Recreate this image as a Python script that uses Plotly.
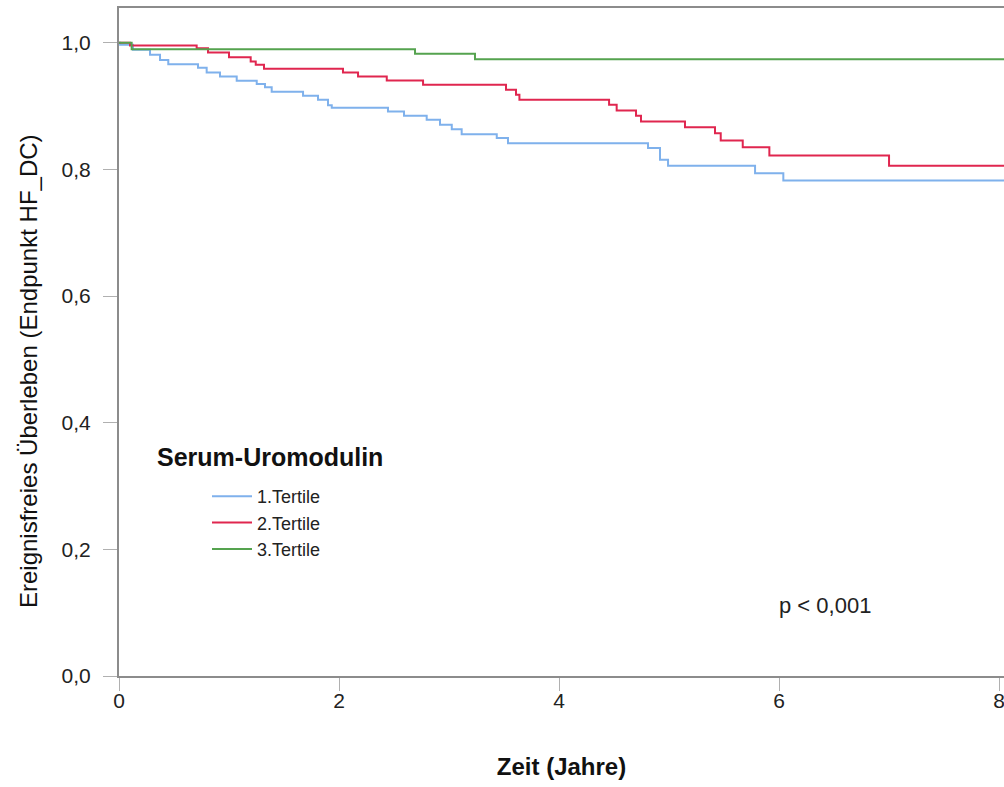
import plotly.graph_objects as go

# ---- data ----
t1_time = [0, 0.01, 0.127, 0.282, 0.373, 0.448, 0.718, 0.797, 0.918, 1.07, 1.252, 1.327, 1.388,
           1.673, 1.809, 1.90, 1.934, 2.445, 2.591, 2.797, 2.918, 3.025, 3.115, 3.434, 3.536,
           4.809, 4.918, 4.991, 5.782, 6.039, 8.045]
t1_surv = [1.0, 0.9968, 0.9889, 0.981, 0.973, 0.966, 0.9605, 0.953, 0.947, 0.940, 0.935, 0.930, 0.9226,
           0.9163, 0.910, 0.9016, 0.8973, 0.8915, 0.8847, 0.8784, 0.8705, 0.8637, 0.8558, 0.8495, 0.8415,
           0.8337, 0.8152, 0.8057, 0.7942, 0.7825, 0.7825]

t2_time = [0, 0.10, 0.706, 0.809, 1.0, 1.197, 1.243, 1.318, 2.036, 2.173, 2.434, 2.764, 3.518, 3.609,
           3.64, 4.455, 4.524, 4.70, 4.745, 5.145, 5.418, 5.470, 5.67, 5.912, 7.0, 8.045]
t2_surv = [1.0, 0.9957, 0.9916, 0.9847, 0.9774, 0.9705, 0.9652, 0.9589, 0.9531, 0.9468, 0.9405, 0.9336,
           0.9258, 0.9179, 0.910, 0.9021, 0.8931, 0.8847, 0.8757, 0.8668, 0.8573, 0.8457, 0.8352, 0.822,
           0.8057, 0.8057]

t3_time = [0, 0.115, 2.691, 3.236, 8.045]
t3_surv = [1.0, 0.990, 0.9826, 0.9742, 0.9742]

series_names = ["1.Tertile", "2.Tertile", "3.Tertile"]
series_colors = ["#7fb1ec", "#e0264f", "#55a34f"]

x_tickvals = [0, 2, 4, 6, 8]
y_tickvals = [0.0, 0.2, 0.4, 0.6, 0.8, 1.0]

FONT = "Liberation Sans, Arial, sans-serif"

fig = go.Figure()
for tt, ss, nm, col in zip([t1_time, t2_time, t3_time], [t1_surv, t2_surv, t3_surv],
                           series_names, series_colors):
    fig.add_trace(go.Scatter(x=tt, y=ss, mode="lines", name=nm,
                             line=dict(shape="hv", color=col, width=2)))

fig.update_layout(
    width=1004, height=787,
    margin=dict(l=119, r=0, t=8, b=111),
    paper_bgcolor="white", plot_bgcolor="white",
    separators=",.",
    font=dict(family=FONT, color="#222222"),
    showlegend=True,
    legend=dict(x=(207 - 119) / 885, y=(676 - 478) / 668, xanchor="left", yanchor="top",
                font=dict(size=18, family=FONT, color="#222222"),
                bgcolor="rgba(0,0,0,0)", borderwidth=0, itemwidth=40),
    xaxis=dict(range=[0, 8.045], tickvals=x_tickvals, tickformat="d",
               showgrid=False, zeroline=False,
               showline=True, linecolor="#8c8c8c", linewidth=2, mirror=True,
               ticks="outside", ticklen=13, tickcolor="#b0b0b0", tickwidth=1,
               ticklabeloverflow="allow", ticklabelstandoff=-8,
               tickfont=dict(size=21, family=FONT, color="#222222"),
               title=dict(text="<b>Zeit (Jahre)</b>", font=dict(size=24, family=FONT, color="#111111"),
                          standoff=47)),
    yaxis=dict(range=[0, 1.055], tickvals=y_tickvals, tickformat=".1f",
               showgrid=False, zeroline=False,
               showline=True, linecolor="#8c8c8c", linewidth=2,
               ticks="outside", ticklen=14, tickcolor="#b0b0b0", tickwidth=1,
               ticklabelstandoff=8,
               tickfont=dict(size=21, family=FONT, color="#222222")),
    annotations=[
        dict(text="Ereignisfreies Überleben (Endpunkt HF_DC)", textangle=-90,
             xref="paper", yref="paper", x=(28 - 119) / 885, y=(676 - 371) / 668,
             xanchor="center", yanchor="middle", showarrow=False,
             font=dict(size=24, family=FONT, color="#111111")),
        dict(text="<b>Serum-Uromodulin</b>", xref="paper", yref="paper",
             x=(155 - 119) / 885, y=(676 - 457) / 668, xanchor="left", yanchor="middle",
             showarrow=False, font=dict(size=25, family=FONT, color="#111111")),
        dict(text="p < 0,001", xref="paper", yref="paper",
             x=(777 - 119) / 885, y=(676 - 605) / 668, xanchor="left", yanchor="middle",
             showarrow=False, font=dict(size=22, family=FONT, color="#222222")),
    ],
)

fig.write_html("out.html")
